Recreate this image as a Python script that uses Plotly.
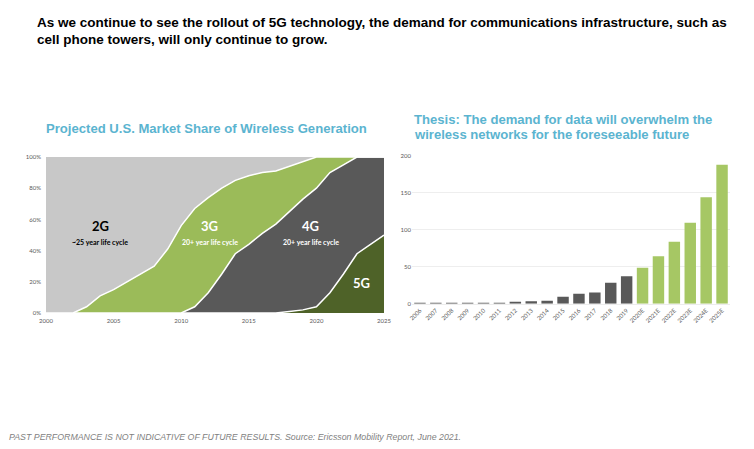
import plotly.graph_objects as go

# ---- Left chart: projected U.S. market share (%) by wireless generation ----
years = list(range(2000, 2026))
share_5g = [0]*18 + [1, 2, 4, 13, 25, 38, 44, 50]
share_4g = [0]*11 + [4, 13, 25, 38, 44, 51, 57, 64, 71, 76, 77, 70, 62, 56, 50]
share_3g = [0, 0, 0, 4, 11, 15, 20, 25, 30, 41, 56, 63, 61, 55, 47, 44, 39, 34, 29, 24, 20, 10, 5, 0, 0, 0]
share_2g = [100, 100, 100, 96, 89, 85, 80, 75, 70, 59, 44, 33, 26, 20, 15, 12, 10, 9, 6, 3, 0, 0, 0, 0, 0, 0]
pct_ticks = [0, 20, 40, 60, 80, 100]
pct_labels = ["0%", "20%", "40%", "60%", "80%", "100%"]
year_ticks = [2000, 2005, 2010, 2015, 2020, 2025]

# ---- Right chart: data demand ----
bar_cats = ["2006", "2007", "2008", "2009", "2010", "2011", "2012", "2013", "2014",
            "2015", "2016", "2017", "2018", "2019",
            "2020E", "2021E", "2022E", "2023E", "2024E", "2025E"]
bar_vals = [0.05, 0.1, 0.2, 0.3, 0.5, 1.0, 1.5, 3.3, 4, 9.5, 13.5, 15.3, 28.4, 37,
            48.6, 64, 83.8, 109.5, 143.7, 187.8]
bar_colors = ["#595959"]*14 + ["#a6c764"]*6
val_ticks = [0, 50, 100, 150, 200]

W, H = 754, 449
OFF = 8  # page body margin offset

def px(x):
    return (x - OFF) / W

def py(y):
    return 1 - (y - OFF) / H

fig = go.Figure()

series = [("5G", share_5g, "#4e6228"), ("4G", share_4g, "#595959"),
          ("3G", share_3g, "#9bbb59"), ("2G", share_2g, "#c8c8c8")]
for name, vals, col in series:
    fig.add_trace(go.Scatter(
        x=years, y=vals, name=name, stackgroup="one", mode="lines",
        line=dict(color="white" if name != "2G" else col, width=1.5 if name != "2G" else 0),
        fillcolor=col, xaxis="x", yaxis="y", hoverinfo="skip"))

fig.add_trace(go.Bar(x=bar_cats, y=bar_vals, marker=dict(color=bar_colors, line=dict(width=0)),
                     xaxis="x2", yaxis="y2", hoverinfo="skip"))

tickfont = dict(family="Lato, Arial", size=6, color="#595959")
fig.update_layout(
    width=W, height=H, margin=dict(l=0, r=0, t=0, b=0),
    paper_bgcolor="white", plot_bgcolor="white", showlegend=False,
    xaxis=dict(domain=[px(46), px(384)], range=[2000, 2025], tickvals=year_ticks,
               showgrid=False, zeroline=False, tickfont=tickfont, ticks="", anchor="y",
               automargin=False, ticklabelstandoff=3),
    yaxis=dict(domain=[py(313), py(157)], range=[0, 100], tickvals=pct_ticks, ticktext=pct_labels,
               showgrid=False, zeroline=False, tickfont=tickfont, ticks="", anchor="x",
               automargin=False, ticklabelstandoff=4),
    xaxis2=dict(domain=[px(412), px(730)], tickangle=-45, showgrid=False, zeroline=False,
                tickfont=tickfont, ticks="", anchor="y2", showline=True, linecolor="#ececec",
                automargin=False),
    yaxis2=dict(domain=[py(303.7), py(155.7)], range=[0, 200], tickvals=val_ticks,
                showgrid=True, gridcolor="#eeeeee", zeroline=False, tickfont=tickfont, ticks="",
                anchor="x2", automargin=False),
    bargap=0.28,
)

ann = []
def t(x, y, text, size, color="black", xref="paper", yref="paper", bold=False, family="Arial", xanchor="left", italic=False):
    s = text
    if bold:
        s = "<b>" + s + "</b>"
    if italic:
        s = "<i>" + s + "</i>"
    ann.append(dict(x=x, y=y, xref=xref, yref=yref, text=s, showarrow=False,
                    font=dict(family=family, size=size, color=color), xanchor=xanchor,
                    yanchor="middle", align="left"))

# header
t(px(35), py(22), "As we continue to see the rollout of 5G technology, the demand for communications infrastructure, such as", 13.5, bold=True)
t(px(35), py(40), "cell phone towers, will only continue to grow.", 13.5, bold=True)
# chart titles
t(px(44), py(128), "Projected U.S. Market Share of Wireless Generation", 13.1, color="#5bb4d0", bold=True)
t(px(412), py(119), "Thesis: The demand for data will overwhelm the", 13.1, color="#5bb4d0", bold=True)
t(px(412), py(134), "wireless networks for the foreseeable future", 13.1, color="#5bb4d0", bold=True)
# footer
t(px(7), py(437), "PAST PERFORMANCE IS NOT INDICATIVE OF FUTURE RESULTS. Source: Ericsson Mobility Report, June 2021.", 8.8, color="#7f7f7f", italic=True)

# labels in the area chart
lab = "Lato, Open Sans"
t(2004, 55.7, "2G", 13, xref="x", yref="y", bold=True, family=lab, xanchor="center")
t(2004, 45.6, "~25 year life cycle", 7, xref="x", yref="y", bold=True, family=lab, xanchor="center")
t(2012.1, 55.7, "3G", 13, color="white", xref="x", yref="y", bold=True, family=lab, xanchor="center")
t(2012.1, 45.6, "20+ year life cycle", 7, color="white", xref="x", yref="y", bold=True, family=lab, xanchor="center")
t(2019.6, 55.7, "4G", 13, color="white", xref="x", yref="y", bold=True, family=lab, xanchor="center")
t(2019.6, 45.6, "20+ year life cycle", 7, color="white", xref="x", yref="y", bold=True, family=lab, xanchor="center")
t(2023.3, 19, "5G", 13, color="white", xref="x", yref="y", bold=True, family=lab, xanchor="center")

fig.update_layout(annotations=ann)
fig.write_html("out.html")
